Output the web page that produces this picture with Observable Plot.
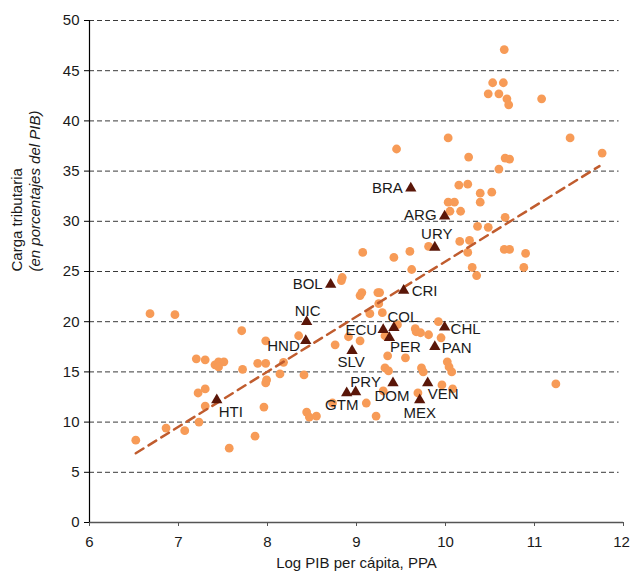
<!DOCTYPE html>
<html>
<head>
<meta charset="utf-8">
<script src="https://cdn.jsdelivr.net/npm/d3@7"></script>
<script src="https://cdn.jsdelivr.net/npm/@observablehq/plot@0.6"></script>
<style>
  html, body { margin: 0; padding: 0; background: #fff; }
  #chart svg { overflow: visible; }
</style>
</head>
<body>
<div id="chart"></div>
<script>
// ---- Data ----
const worldX = [10.66,10.53,10.65,10.48,10.60,10.69,10.71,11.08,10.03,11.40,9.45,11.76,10.26,10.67,10.72,10.60,
  10.15,10.25,10.39,10.52,10.03,10.10,10.39,10.05,10.17,10.67,10.36,10.48,9.81,10.16,10.27,9.07,9.42,9.60,10.25,
  10.66,10.72,10.90,9.62,10.30,10.88,10.35,8.84,8.83,9.06,9.04,9.24,9.26,9.25,9.29,9.15,9.46,8.91,9.04,9.32,9.66,
  9.67,9.72,9.81,9.92,9.95,9.35,9.55,10.02,10.04,10.07,9.32,9.36,9.73,9.75,9.69,9.96,10.08,9.30,9.11,9.22,11.24,
  6.68,6.96,7.71,8.35,7.98,8.76,7.20,7.30,7.41,7.45,7.51,7.45,7.72,7.89,7.98,8.18,8.14,8.41,7.99,7.98,7.22,7.30,
  7.30,7.96,8.73,8.44,8.47,8.55,6.86,7.07,7.23,6.52,7.57,7.86];
const worldY = [47.1,43.8,43.8,42.7,42.7,42.2,41.6,42.2,38.3,38.3,37.2,36.8,36.4,36.3,36.2,35.2,
  33.6,33.7,32.8,32.9,31.9,31.9,31.9,31.0,31.0,30.4,29.5,29.4,27.5,28.0,28.1,26.9,26.4,27.0,26.9,
  27.2,27.2,26.8,25.2,25.4,25.4,24.6,24.4,24.1,22.9,22.6,22.9,22.9,21.8,20.9,20.8,19.7,18.5,18.1,18.6,19.3,
  19.0,18.9,18.7,20.0,18.4,16.6,16.4,16.0,15.5,15.0,15.4,15.1,15.4,15.0,12.9,13.7,13.3,13.1,11.9,10.6,13.8,
  20.8,20.7,19.1,18.6,18.1,17.7,16.3,16.2,15.7,16.0,16.0,15.5,15.25,15.85,15.85,15.95,14.8,14.7,14.2,13.9,12.9,13.3,
  11.6,11.5,11.9,11.0,10.5,10.6,9.4,9.15,10.0,8.2,7.4,8.6];

const latamCodes = ["BRA","ARG","URY","BOL","CRI","NIC","COL","ECU","CHL","HND","PER","PAN","SLV","PRY","GTM","DOM","VEN","MEX","HTI"];
const latamX = [9.61,9.99,9.88,8.71,9.53,8.44,9.42,9.30,9.99,8.43,9.37,9.88,8.95,8.99,8.89,9.41,9.80,9.71,7.43];
const latamY = [33.3,30.5,27.4,23.7,23.1,20.0,19.4,19.2,19.45,18.1,18.4,17.5,17.1,13.0,12.9,13.9,13.9,12.2,12.2];

const trendX = [6.52, 11.73];
const trendY = [6.9, 35.5];

const xTicks = [6, 7, 8, 9, 10, 11, 12];
const yTicks = [0, 5, 10, 15, 20, 25, 30, 35, 40, 45, 50];
const gridY = [5, 10, 15, 20, 25, 30, 35, 40, 45, 50];

const xTitle = "Log PIB per cápita, PPA";
const yTitle1 = "Carga tributaria";
const yTitle2 = "(en porcentajes del PIB)";

// ---- Label placement (style, kept apart from the data) ----
const place = {
  BRA: ["end", -8, 0], ARG: ["end", -8, -1], URY: ["middle", 2, -13], BOL: ["end", -8, 0],
  CRI: ["start", 8, 1], NIC: ["middle", 1, -11], COL: ["middle", 9, -11], ECU: ["end", -6, 0],
  CHL: ["start", 6, 2], HND: ["end", -6, 5], PER: ["middle", 16, 9], PAN: ["start", 7, 1],
  SLV: ["middle", -1, 11], PRY: ["middle", 10, -10], GTM: ["middle", -5, 12], DOM: ["middle", -1, 13],
  VEN: ["start", 0, 11], MEX: ["middle", 0, 13], HTI: ["start", 2, 12]
};

const world = worldX.map((x, i) => ({x, y: worldY[i]}));
const latam = latamCodes.map((c, i) => ({code: c, x: latamX[i], y: latamY[i]}));
const trend = trendX.map((x, i) => ({x, y: trendY[i]}));

const orange = "#F79B57";
const dark = "#5A1608";
const trendColor = "#C05C2E";
const ink = "#1a1a1a";
const font = "'Liberation Sans', Arial, Helvetica, sans-serif";
const lastX = xTicks[xTicks.length - 1];

const chart = Plot.plot({
  width: 630,
  height: 573,
  marginLeft: 89,
  marginRight: 7,
  marginTop: 20,
  marginBottom: 51,
  style: {fontFamily: font, fontSize: "15px", color: ink, background: "#fff", overflow: "visible"},
  x: {domain: [6, 12]},
  y: {domain: [0, 50]},
  marks: [
    Plot.ruleY(gridY, {x1: 6, x2: 11.95, stroke: "#3a3a3a", strokeWidth: 1, strokeDasharray: "5,3"}),
    Plot.axisY({ticks: yTicks, tickSize: 5, tickPadding: 5, tickFormat: d => String(d), label: null, fontSize: 15, stroke: "#000"}),
    Plot.axisX({ticks: xTicks, tickSize: 4, tickPadding: 10, tickFormat: d => d === lastX ? "" : String(d), label: null, fontSize: 15, stroke: "#555"}),
    Plot.axisX({ticks: [lastX], tickSize: 0, tickPadding: 14, tickFormat: d => String(d), label: null, fontSize: 15, dx: -2}),
    Plot.ruleY([0], {stroke: "#555", strokeWidth: 1.5}),
    Plot.ruleX([6], {stroke: "#000", strokeWidth: 1.2}),
    Plot.dot(world, {x: "x", y: "y", r: 4.4, fill: orange, stroke: "none"}),
    Plot.line(trend, {x: "x", y: "y", stroke: trendColor, strokeWidth: 2.5, strokeDasharray: "9,6"}),
    Plot.dot(latam, {x: "x", y: "y", symbol: "triangle", r: 4.2, fill: dark, stroke: "none"}),
    ...latam.map(d => Plot.text([d], {
      x: "x", y: "y", text: "code",
      textAnchor: place[d.code][0], dx: place[d.code][1], dy: place[d.code][2],
      fill: ink, fontSize: 15
    })),
    Plot.text([xTitle], {frameAnchor: "bottom", dy: 45, fontSize: 15, fill: ink}),
    Plot.text([yTitle1], {frameAnchor: "left", dx: -72, rotate: -90, fontSize: 15, fill: ink}),
    Plot.text([yTitle2], {frameAnchor: "left", dx: -54, rotate: -90, fontSize: 15, fontStyle: "italic", fill: ink})
  ]
});
document.getElementById("chart").appendChild(chart);
</script>
</body>
</html>
